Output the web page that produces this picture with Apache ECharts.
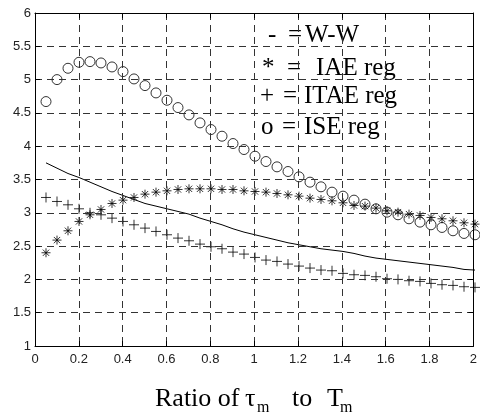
<!DOCTYPE html>
<html>
<head>
<meta charset="utf-8">
<script src="https://cdn.jsdelivr.net/npm/echarts@6/dist/echarts.min.js"></script>
<style>
html,body{margin:0;padding:0;background:#fff}
#wrap{position:relative;width:480px;height:417px}
#marks,#axes{position:absolute;left:0;top:0;width:480px;height:417px}
#axes{pointer-events:none}
#err{position:absolute;left:0;top:0;font:10px monospace;color:red;white-space:pre-wrap}
</style>
</head>
<body>
<div id="wrap"><div id="marks"></div><div id="axes"></div><div id="err"></div></div>
<script>
window.onerror = function(m){ document.getElementById('err').textContent += 'ERR ' + m + '\n'; };

var ratio = [0.05,0.1,0.15,0.2,0.25,0.3,0.35,0.4,0.45,0.5,0.55,0.6,0.65,0.7,0.75,0.8,0.85,0.9,0.95,1.0,
             1.05,1.1,1.15,1.2,1.25,1.3,1.35,1.4,1.45,1.5,1.55,1.6,1.65,1.7,1.75,1.8,1.85,1.9,1.95,2.0];
var ww   = [3.75,3.67,3.59,3.53,3.46,3.39,3.32,3.26,3.20,3.14,3.10,3.06,3.02,2.98,2.92,2.87,2.82,2.76,2.71,2.67,
            2.63,2.59,2.55,2.52,2.49,2.46,2.44,2.42,2.39,2.35,2.32,2.30,2.28,2.26,2.24,2.22,2.20,2.18,2.15,2.14];
var iae  = [2.40,2.59,2.73,2.87,2.97,3.05,3.14,3.19,3.23,3.28,3.31,3.33,3.35,3.36,3.36,3.36,3.35,3.35,3.33,3.32,
            3.31,3.29,3.27,3.25,3.22,3.20,3.18,3.15,3.11,3.10,3.07,3.03,3.01,2.98,2.96,2.93,2.91,2.88,2.85,2.83];
var itae = [3.23,3.17,3.12,3.06,3.00,2.97,2.92,2.87,2.82,2.77,2.72,2.67,2.62,2.58,2.53,2.49,2.46,2.41,2.38,2.33,
            2.29,2.27,2.23,2.20,2.17,2.14,2.13,2.09,2.07,2.06,2.04,2.01,2.00,1.98,1.97,1.94,1.92,1.91,1.89,1.88];
var ise  = [4.67,5.00,5.17,5.26,5.27,5.25,5.19,5.12,5.01,4.91,4.80,4.69,4.58,4.47,4.35,4.25,4.15,4.04,3.95,3.85,
            3.77,3.69,3.62,3.54,3.46,3.39,3.31,3.25,3.19,3.13,3.06,3.01,2.97,2.91,2.86,2.82,2.78,2.73,2.69,2.67];

var legendRows = [
  {sym: '-', eq: '=', label: 'W-W'},
  {sym: '*', eq: '=', label: 'IAE reg'},
  {sym: '+', eq: '=', label: 'ITAE reg'},
  {sym: 'o', eq: '=', label: 'ISE reg'}
];

function pairs(ys){ return ratio.map(function(x,i){ return [x, ys[i]]; }); }

var serif = '"Liberation Serif","Times New Roman",serif';
var sans = '"Liberation Sans",Arial,sans-serif';
var gridBox = {left: 35, right: 5, top: 13, bottom: 71};

function tickStyle(){ return {show: true, inside: true, length: 5, lineStyle: {color: '#000', width: 1}}; }
function axisLine(){ return {show: true, onZero: false, lineStyle: {color: '#000', width: 1}}; }
function split(){ return {show: true, lineStyle: {color: '#333', width: 1, type: [7, 5]}}; }

/* layer 1: data marks + texts */
var legendPos = [
  {sx: 268, ex: 288, lx: 305, y: 35},
  {sx: 262, ex: 287, lx: 316, y: 68},
  {sx: 260, ex: 283, lx: 304, y: 96},
  {sx: 261, ex: 282, lx: 304, y: 127}
];
var graphics = [];
legendRows.forEach(function(r, i){
  var p = legendPos[i];
  [[r.sym, p.sx], [r.eq, p.ex], [r.label, p.lx]].forEach(function(t){
    graphics.push({type: 'text', x: t[1], y: p.y,
      style: {text: t[0], font: '25px ' + serif, fill: '#000', textAlign: 'left', textVerticalAlign: 'middle'}});
  });
});
var titleParts = [
  ['Ratio of', 155, 399, 26],
  ['\u03c4', 245, 399, 26],
  ['m', 257, 408, 16],
  ['to', 292, 399, 26],
  ['T', 327, 399, 26],
  ['m', 340, 408, 16]
];
titleParts.forEach(function(t){
  graphics.push({type: 'text', x: t[1], y: t[2],
    style: {text: t[0], font: t[3] + 'px ' + serif, fill: '#000', textAlign: 'left', textVerticalAlign: 'middle'}});
});

var marks = echarts.init(document.getElementById('marks'));
marks.setOption({
  animation: false,
  grid: gridBox,
  xAxis: {type: 'value', min: 0, max: 2, interval: 0.2, axisLine: {show: false}, axisTick: {show: false},
          splitLine: {show: false}, axisLabel: {show: false}},
  yAxis: {type: 'value', min: 1, max: 6, interval: 0.5, axisLine: {show: false}, axisTick: {show: false},
          splitLine: {show: false}, axisLabel: {show: false}},
  series: [
    {name: 'W-W', type: 'line', data: pairs(ww), showSymbol: false, symbol: 'none',
     lineStyle: {color: '#000', width: 1}},
    {name: 'IAE reg', type: 'scatter', data: pairs(iae), symbolSize: 9,
     symbol: 'path://M0,5L10,5M5,0L5,10M1.5,1.5L8.5,8.5M1.5,8.5L8.5,1.5',
     itemStyle: {color: 'none', borderColor: '#000', borderWidth: 1}},
    {name: 'ITAE reg', type: 'scatter', data: pairs(itae), symbolSize: 10,
     symbol: 'path://M0,5L10,5M5,0L5,10',
     itemStyle: {color: 'none', borderColor: '#000', borderWidth: 1}},
    {name: 'ISE reg', type: 'scatter', data: pairs(ise), symbolSize: 10,
     symbol: 'circle',
     itemStyle: {color: 'rgba(0,0,0,0)', borderColor: '#000', borderWidth: 1}}
  ],
  graphic: graphics
});

/* layer 2: frame, ticks, dashed grid, tick labels (transparent overlay) */
var axes = echarts.init(document.getElementById('axes'));
axes.setOption({
  animation: false,
  grid: gridBox,
  xAxis: [
    {type: 'value', min: 0, max: 2, interval: 0.2, position: 'bottom',
     axisLine: axisLine(), axisTick: tickStyle(), splitLine: split(),
     axisLabel: {color: '#222', fontSize: 13, fontFamily: sans, margin: 7}},
    {type: 'value', min: 0, max: 2, interval: 0.2, position: 'top',
     axisLine: axisLine(), axisTick: tickStyle(), splitLine: {show: false}, axisLabel: {show: false}}
  ],
  yAxis: [
    {type: 'value', min: 1, max: 6, interval: 0.5, position: 'left',
     axisLine: axisLine(), axisTick: tickStyle(), splitLine: split(),
     axisLabel: {color: '#222', fontSize: 13, fontFamily: sans, margin: 4}},
    {type: 'value', min: 1, max: 6, interval: 0.5, position: 'right',
     axisLine: axisLine(), axisTick: tickStyle(), splitLine: {show: false}, axisLabel: {show: false}}
  ],
  series: [{type: 'line', data: [], showSymbol: false}]
});
</script>
</body>
</html>
